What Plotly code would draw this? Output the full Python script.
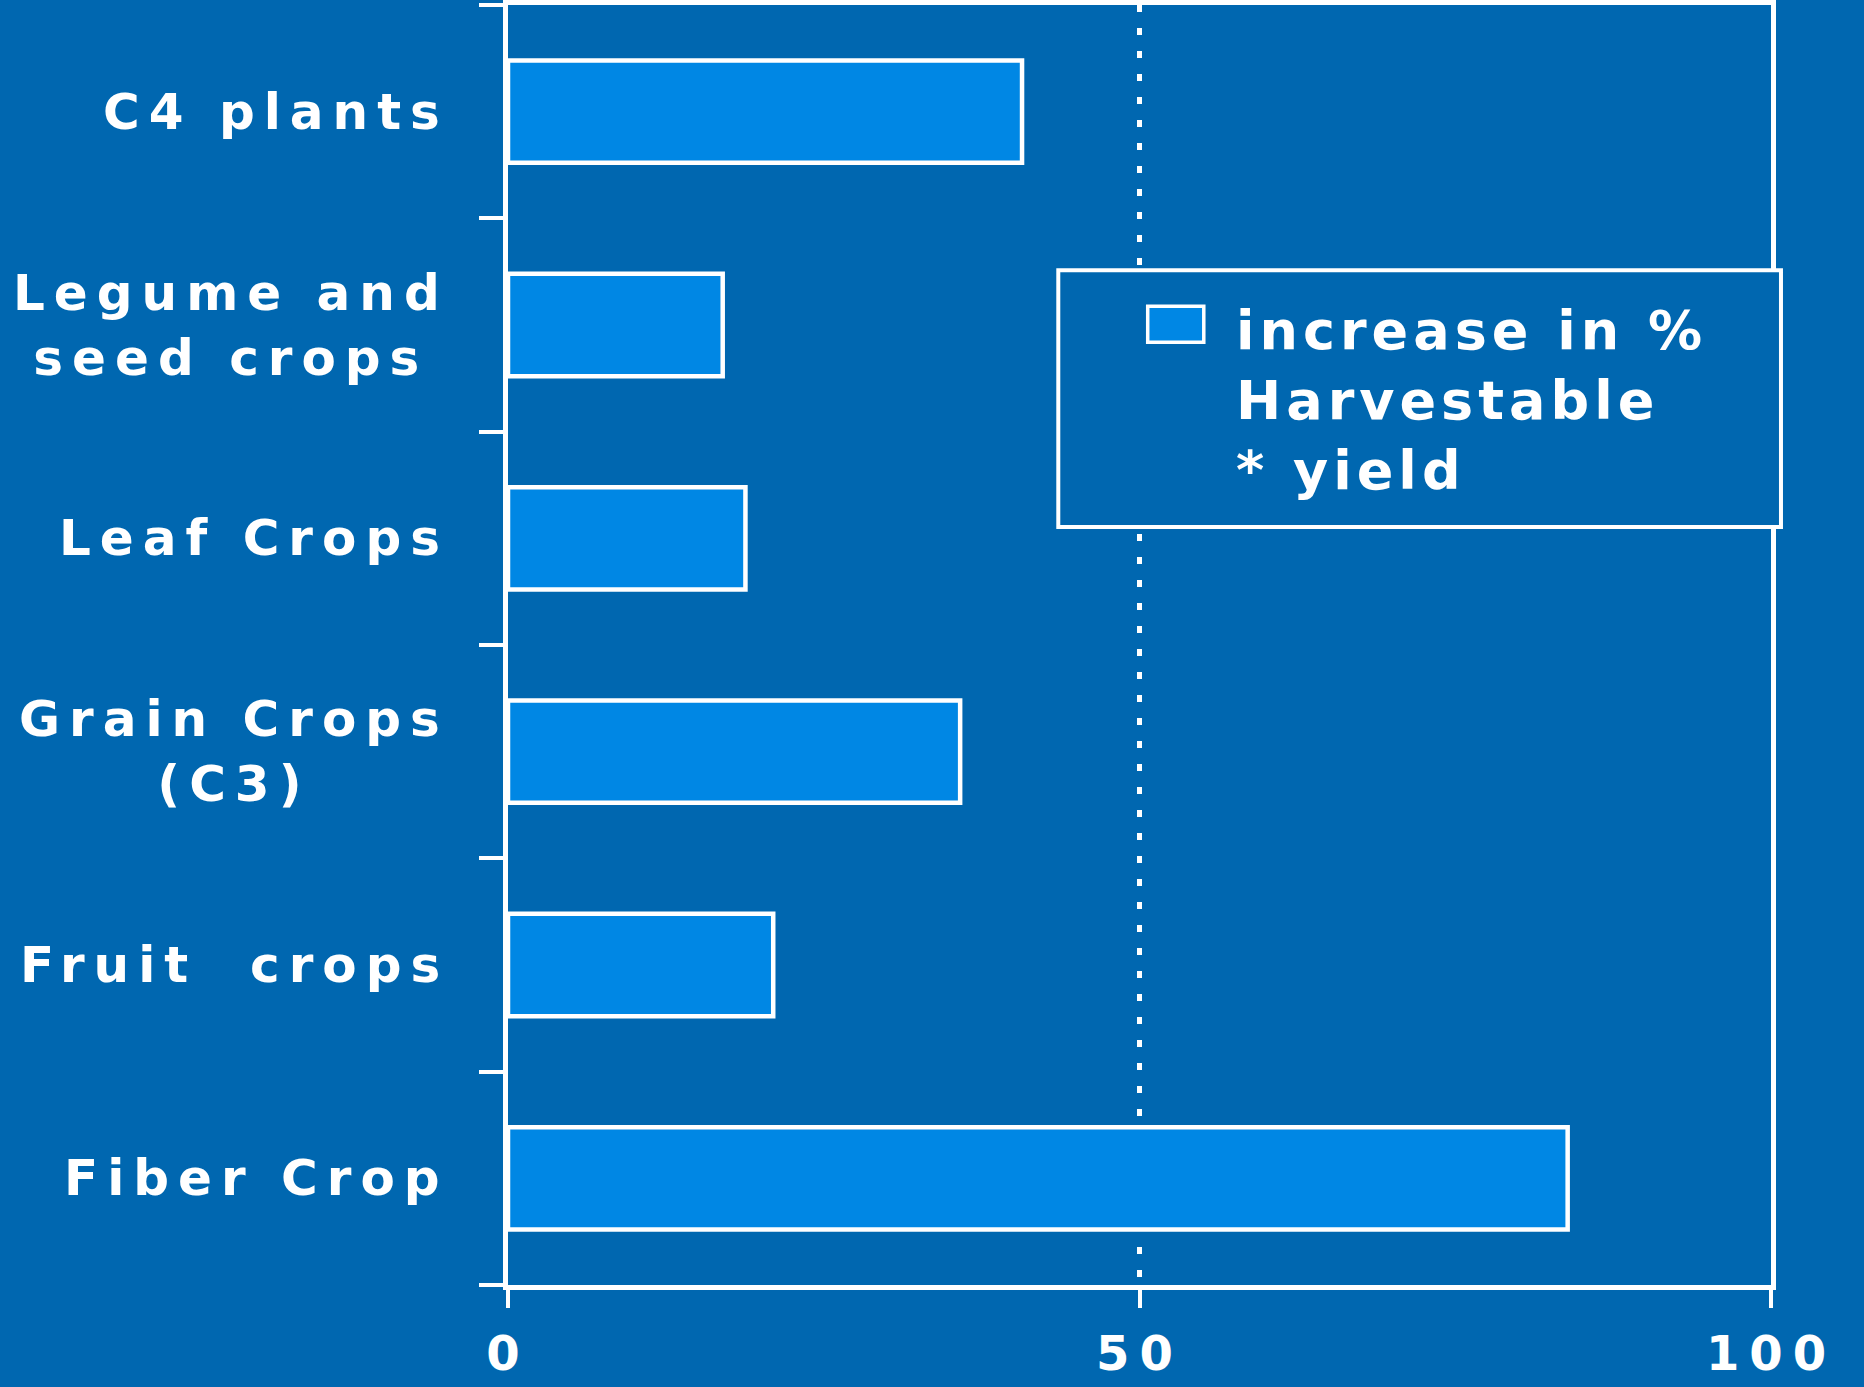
import plotly.graph_objects as go

# ---- data ----
categories = ["C4 plants", "Legume and<br>seed crops", "Leaf Crops",
              "Grain Crops<br>(C3)", "Fruit  crops", "Fiber Crop"]
values = [40.7, 17.0, 18.8, 35.8, 21.0, 83.9]
series_name = "increase in %<br>Harvestable<br>* yield"
x_tickvals = [0, 50, 100]
x_ticktext = ["0", "50", "100"]

# ---- style ----
BG = "rgb(0,103,176)"
BAR = "rgb(0,135,228)"
WHITE = "white"
FONT = "DejaVu Sans"


def spaced(t, px):
    return "<br>".join(f'<span style="letter-spacing:{px}px">{p}</span>' for p in t.split("<br>"))


cat_ids = list(range(len(categories)))

fig = go.Figure()
fig.add_trace(go.Bar(
    y=cat_ids, x=values, orientation="h", name=series_name,
    marker=dict(color=BAR, line=dict(color=WHITE, width=4.5)),
    showlegend=False,
))

annotations = []
for i, c in enumerate(categories):
    annotations.append(dict(
        xref="paper", yref="y", x=-0.045, y=i, xanchor="right", yanchor="middle",
        text=spaced(c, 9), showarrow=False, align="center",
        font=dict(family=FONT, size=50, color=WHITE, weight="bold"),
    ))

# manual legend
annotations.append(dict(
    xref="paper", yref="paper", x=0.5747, y=0.6913, xanchor="left", yanchor="middle",
    text=spaced(series_name, 5), showarrow=False, align="left",
    font=dict(family=FONT, size=54, color=WHITE, weight="bold"),
))
shapes = [
    dict(type="rect", xref="paper", yref="paper", x0=0.4357, x1=1.0079, y0=0.5921, y1=0.7928,
         fillcolor=BG, line=dict(color=WHITE, width=4), layer="above"),
    dict(type="rect", xref="paper", yref="paper", x0=0.5065, x1=0.5509, y0=0.7366, y1=0.7647,
         fillcolor=BAR, line=dict(color=WHITE, width=3.5), layer="above"),
]

fig.update_layout(
    width=1864, height=1387,
    margin=dict(l=508, r=93, t=5, b=102, autoexpand=False),
    paper_bgcolor=BG, plot_bgcolor=BG,
    bargap=0.52,
    annotations=annotations, shapes=shapes,
    font=dict(family=FONT, color=WHITE),
    xaxis=dict(
        range=[0, 100], tickvals=x_tickvals,
        ticktext=[spaced(t, 10) for t in x_ticktext],
        ticks="outside", ticklen=18, tickwidth=4, tickcolor=WHITE,
        showline=True, linecolor=WHITE, linewidth=5, mirror=True,
        showgrid=True, gridcolor=WHITE, gridwidth=5, griddash="7px,16px",
        zeroline=False, automargin=False,
        tickfont=dict(family=FONT, size=48, color=WHITE, weight="bold"),
        ticklabelstandoff=4,
    ),
    yaxis=dict(
        type="linear", range=[len(categories) - 0.5, -0.5],
        tickvals=[i - 0.5 for i in range(len(categories) + 1)],
        showticklabels=False, automargin=False,
        ticks="outside", ticklen=24, tickwidth=4, tickcolor=WHITE,
        showline=True, linecolor=WHITE, linewidth=5, mirror=True,
        showgrid=False, zeroline=False,
    ),
)

fig.write_html("out.html")
